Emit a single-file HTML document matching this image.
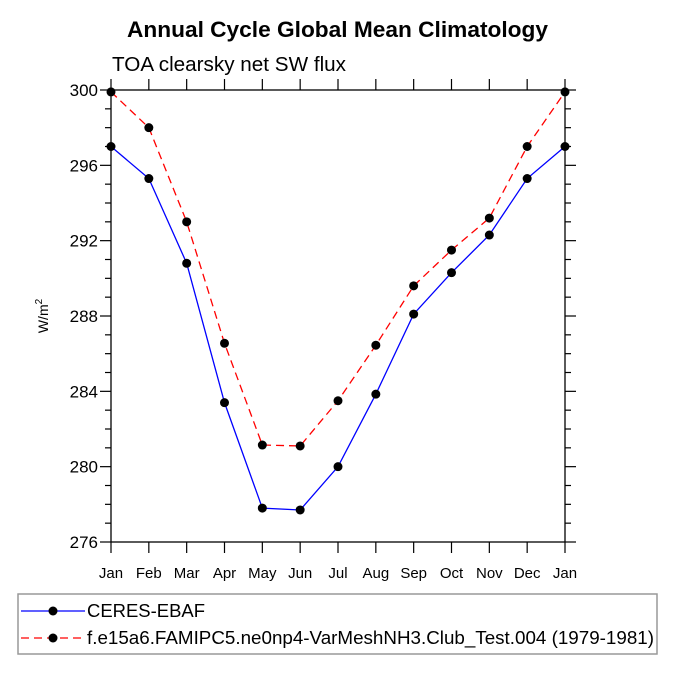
<!DOCTYPE html>
<html><head><meta charset="utf-8"><style>
body{margin:0;background:#fff;}
svg{display:block;font-family:"Liberation Sans",sans-serif;}
</style></head><body>
<svg width="675" height="675" viewBox="0 0 675 675">
<text x="127" y="37" textLength="421" lengthAdjust="spacingAndGlyphs" font-size="22.5" font-weight="bold">Annual Cycle Global Mean Climatology</text>
<text x="112" y="71" textLength="234" lengthAdjust="spacingAndGlyphs" font-size="20">TOA clearsky net SW flux</text>
<text transform="translate(48,316) rotate(-90)" text-anchor="middle" font-size="14">W/m<tspan dy="-6" font-size="10">2</tspan></text>
<g id="axes"></g>
<g id="series"></g>
<rect x="18" y="594" width="639" height="60" fill="none" stroke="#999" stroke-width="1.5"/>
<g>
<line x1="21" y1="611" x2="85" y2="611" stroke="#00f" stroke-width="1.3"/>
<circle cx="53" cy="611" r="4.5" fill="#000"/>
<text x="87" y="617" textLength="118" lengthAdjust="spacingAndGlyphs" font-size="18">CERES-EBAF</text></g>
<g>
<line x1="21" y1="638" x2="85" y2="638" stroke="#f00" stroke-width="1.3" stroke-dasharray="8,5"/>
<circle cx="53" cy="638" r="4.5" fill="#000"/>
<text x="87" y="644" textLength="567" lengthAdjust="spacingAndGlyphs" font-size="18">f.e15a6.FAMIPC5.ne0np4-VarMeshNH3.Club_Test.004 (1979-1981)</text></g>
</svg>
<script>
const months=["Jan","Feb","Mar","Apr","May","Jun","Jul","Aug","Sep","Oct","Nov","Dec","Jan"];
const ceres=[297.0,295.3,290.8,283.4,277.8,277.7,280.0,283.85,288.1,290.3,292.3,295.3,297.0];
const model=[299.9,298.0,293.0,286.55,281.15,281.1,283.5,286.45,289.6,291.5,293.2,297.0,299.9];
const yTicks=[276,280,284,288,292,296,300];
const X0=111,X1=565,Y0=542,Y1=90,YMIN=276,YMAX=300;
const xs=i=>X0+(X1-X0)*i/(months.length-1);
const ys=v=>Y0-(Y0-Y1)*(v-YMIN)/(YMAX-YMIN);
const NS="http://www.w3.org/2000/svg";
function mk(t,a,p){const e=document.createElementNS(NS,t);for(const k in a)e.setAttribute(k,a[k]);p.appendChild(e);return e;}
const ax=document.getElementById('axes');
const frame=mk('rect',{x:X0,y:Y1,width:X1-X0,height:Y0-Y1,fill:'none',stroke:'#000','stroke-width':1.3},ax);


for(let v=YMIN;v<=YMAX;v++){
 const major=yTicks.includes(v),L=major?11:6,y=ys(v);
 mk('line',{x1:X0-L,y1:y,x2:X0,y2:y,stroke:'#000','stroke-width':1.2},ax);
 mk('line',{x1:X1,y1:y,x2:X1+L,y2:y,stroke:'#000','stroke-width':1.2},ax);
}
yTicks.forEach(v=>{const t=mk('text',{x:X0-13,y:ys(v)+6,'text-anchor':'end','font-size':17},ax);t.textContent=v;
 
 });
months.forEach((m,i)=>{const x=xs(i);
 mk('line',{x1:x,y1:Y0,x2:x,y2:Y0+11,stroke:'#000','stroke-width':1.2},ax);
 mk('line',{x1:x,y1:Y1-11,x2:x,y2:Y1,stroke:'#000','stroke-width':1.2},ax);
 const t=mk('text',{x:x,y:Y0+36,'text-anchor':'middle','font-size':15},ax);t.textContent=m;
 
 });
const sg=document.getElementById('series');
function series(d,col,dash,name){
 const g=mk('g',{},sg);
 
 
 const pl=mk('polyline',{points:d.map((v,i)=>xs(i)+','+ys(v)).join(' '),fill:'none',stroke:col,'stroke-width':1.3},g);
 if(dash)pl.setAttribute('stroke-dasharray',dash);
 d.forEach((v,i)=>{const c=mk('circle',{cx:xs(i),cy:ys(v),r:4.5,fill:'#000'},g);
  
  });
}
series(ceres,'#00f',null,'ceres-series');
series(model,'#f00','8,5','model-series');
</script>
</body></html>
